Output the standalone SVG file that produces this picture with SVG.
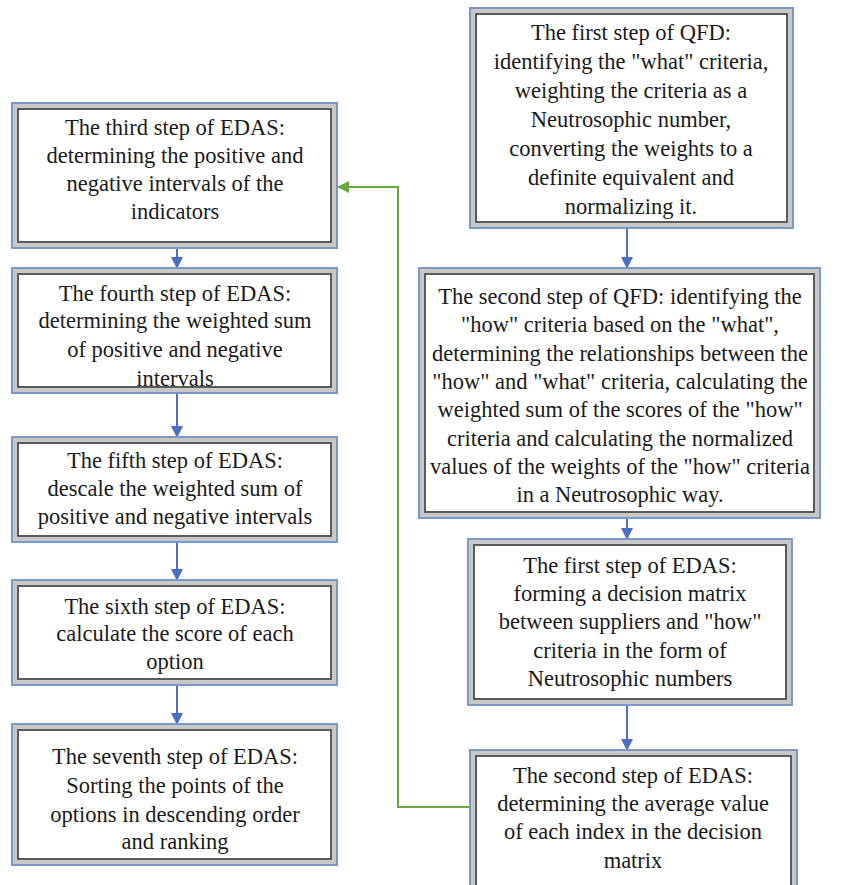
<svg xmlns="http://www.w3.org/2000/svg" width="850" height="885" viewBox="0 0 850 885">
<defs>
<style>
.o{fill:#fff;stroke:#7d98c4;stroke-width:2}
.m{fill:none;stroke:#c8c8c8;stroke-width:4}
.i{fill:none;stroke:#4a4a4a;stroke-width:1.8}
.t{font-family:"Liberation Serif","Times New Roman",serif;font-size:22.5px;fill:#1a1a1a;text-anchor:middle}
.b{stroke:#4a6fc4;stroke-width:2;fill:none}
.g{stroke:#6aa83c;stroke-width:2;fill:none}
</style>
<marker id="ab" markerWidth="12" markerHeight="12" refX="10" refY="6" orient="auto" markerUnits="userSpaceOnUse"><path d="M0,0 L12,6 L0,12 Z" fill="#4a6fc4"/></marker>
<marker id="ag" markerWidth="12" markerHeight="12" refX="10" refY="6" orient="auto" markerUnits="userSpaceOnUse"><path d="M0,0 L12,6 L0,12 Z" fill="#6aa83c"/></marker>
</defs>
<g id="connectors">
<line class="b" x1="177" y1="249" x2="177" y2="267" marker-end="url(#ab)"/>
<line class="b" x1="177" y1="394" x2="177" y2="436" marker-end="url(#ab)"/>
<line class="b" x1="177" y1="543" x2="177" y2="579" marker-end="url(#ab)"/>
<line class="b" x1="177" y1="686" x2="177" y2="723" marker-end="url(#ab)"/>
<line class="b" x1="627" y1="229" x2="627" y2="267" marker-end="url(#ab)"/>
<line class="b" x1="627" y1="519" x2="627" y2="538" marker-end="url(#ab)"/>
<line class="b" x1="627" y1="706" x2="627" y2="749" marker-end="url(#ab)"/>
<polyline class="g" points="470,807 398,807 398,187 339,187" marker-end="url(#ag)"/>
</g>
<g id="edas3">
<rect class="o" x="12" y="103" width="325" height="145"/>
<rect class="m" x="15" y="106" width="319" height="139"/>
<rect class="i" x="18" y="109" width="313" height="133"/>
<text class="t" x="175" y="135">The third step of EDAS:</text>
<text class="t" x="175" y="163">determining the positive and</text>
<text class="t" x="175" y="191">negative intervals of the</text>
<text class="t" x="175" y="219">indicators</text>
</g>
<g id="edas4">
<rect class="o" x="12" y="268" width="325" height="125"/>
<rect class="m" x="15" y="271" width="319" height="119"/>
<rect class="i" x="18" y="274" width="313" height="113"/>
<text class="t" x="175" y="301">The fourth step of EDAS:</text>
<text class="t" x="175" y="328">determining the weighted sum</text>
<text class="t" x="175" y="357">of positive and negative</text>
<text class="t" x="175" y="386">intervals</text>
</g>
<g id="edas5">
<rect class="o" x="12" y="437" width="325" height="105"/>
<rect class="m" x="15" y="440" width="319" height="99"/>
<rect class="i" x="18" y="443" width="313" height="93"/>
<text class="t" x="175" y="468">The fifth step of EDAS:</text>
<text class="t" x="175" y="496">descale the weighted sum of</text>
<text class="t" x="175" y="524">positive and negative intervals</text>
</g>
<g id="edas6">
<rect class="o" x="12" y="580" width="325" height="105"/>
<rect class="m" x="15" y="583" width="319" height="99"/>
<rect class="i" x="18" y="586" width="313" height="93"/>
<text class="t" x="175" y="614">The sixth step of EDAS:</text>
<text class="t" x="175" y="641">calculate the score of each</text>
<text class="t" x="175" y="669">option</text>
</g>
<g id="edas7">
<rect class="o" x="12" y="724" width="325" height="141"/>
<rect class="m" x="15" y="727" width="319" height="135"/>
<rect class="i" x="18" y="730" width="313" height="129"/>
<text class="t" x="175" y="764">The seventh step of EDAS:</text>
<text class="t" x="175" y="793">Sorting the points of the</text>
<text class="t" x="175" y="822">options in descending order</text>
<text class="t" x="175" y="849">and ranking</text>
</g>
<g id="qfd1">
<rect class="o" x="470" y="8" width="323" height="220"/>
<rect class="m" x="473" y="11" width="317" height="214"/>
<rect class="i" x="476" y="14" width="311" height="208"/>
<text class="t" x="631" y="40">The first step of QFD:</text>
<text class="t" x="631" y="69">identifying the "what" criteria,</text>
<text class="t" x="631" y="98">weighting the criteria as a</text>
<text class="t" x="631" y="127">Neutrosophic number,</text>
<text class="t" x="631" y="156">converting the weights to a</text>
<text class="t" x="631" y="185">definite equivalent and</text>
<text class="t" x="631" y="214">normalizing it.</text>
</g>
<g id="qfd2">
<rect class="o" x="419" y="268" width="401" height="250"/>
<rect class="m" x="422" y="271" width="395" height="244"/>
<rect class="i" x="425" y="274" width="389" height="238"/>
<text class="t" x="620" y="304">The second step of QFD: identifying the</text>
<text class="t" x="620" y="332">"how" criteria based on the "what",</text>
<text class="t" x="620" y="361">determining the relationships between the</text>
<text class="t" x="620" y="389">"how" and "what" criteria, calculating the</text>
<text class="t" x="620" y="417">weighted sum of the scores of the "how"</text>
<text class="t" x="620" y="446">criteria and calculating the normalized</text>
<text class="t" x="620" y="474">values of the weights of the "how" criteria</text>
<text class="t" x="620" y="502">in a Neutrosophic way.</text>
</g>
<g id="edas1">
<rect class="o" x="468" y="539" width="324" height="166"/>
<rect class="m" x="471" y="542" width="318" height="160"/>
<rect class="i" x="474" y="545" width="312" height="154"/>
<text class="t" x="630" y="573">The first step of EDAS:</text>
<text class="t" x="630" y="601">forming a decision matrix</text>
<text class="t" x="630" y="629">between suppliers and "how"</text>
<text class="t" x="630" y="658">criteria in the form of</text>
<text class="t" x="630" y="686">Neutrosophic numbers</text>
</g>
<g id="edas2">
<rect class="o" x="470" y="750" width="327" height="145"/>
<rect class="m" x="473" y="753" width="321" height="139"/>
<rect class="i" x="476" y="756" width="315" height="133"/>
<text class="t" x="633" y="783">The second step of EDAS:</text>
<text class="t" x="633" y="811">determining the average value</text>
<text class="t" x="633" y="839">of each index in the decision</text>
<text class="t" x="633" y="868">matrix</text>
</g>
</svg>
